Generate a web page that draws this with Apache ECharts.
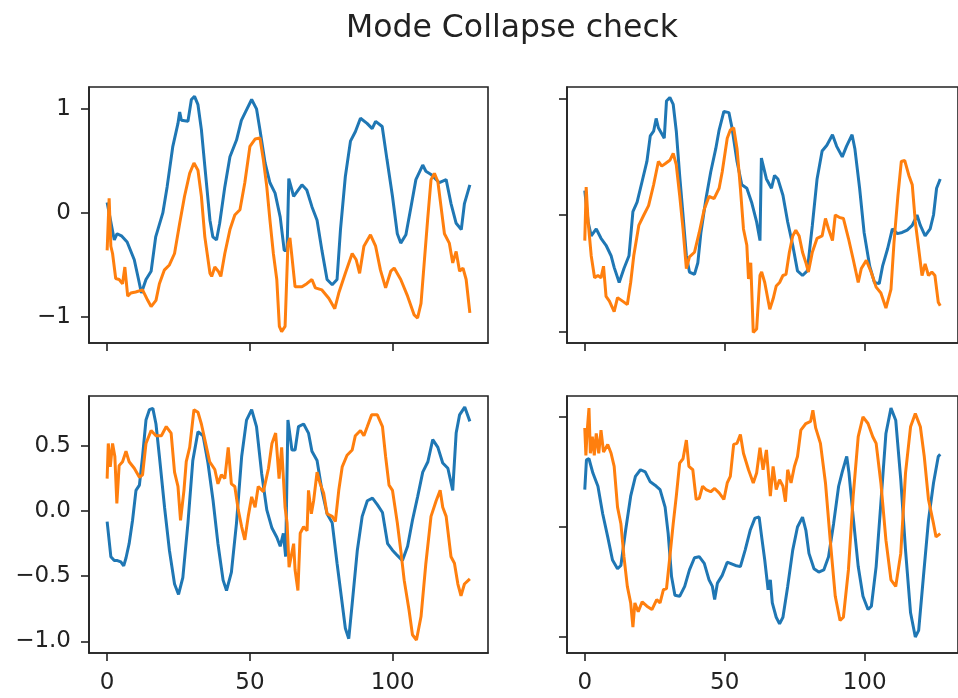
<!DOCTYPE html>
<html>
<head>
<meta charset="utf-8">
<script src="https://cdn.jsdelivr.net/npm/echarts@6/dist/echarts.min.js"></script>
<style>
html,body{margin:0;padding:0;background:#fff;}
#chart{width:958px;height:698px;}
</style>
</head>
<body>
<div id="chart"></div>
<script>
// ---------- data ----------
const titleText = 'Mode Collapse check';
const xTicks = [0, 50, 100];
const tlYTicks = [-1, 0, 1];
const trYTicks = [-1, 0, 1];
const blYTicks = [-1, -0.5, 0, 0.5];
const brYTicks = [-1, 0, 1];

// top-left panel
const tlBlueX = [0,2.5,3.5,5,7,9.5,11,12,13.6,15.4,17,19.5,21,23,24.8,25.4,26,28.3,29.5,30.6,31.8,33,34.2,36,37,38.3,39.4,41.2,43,45.3,47,48.8,50.6,52.3,53.5,55.3,57,58.8,60.6,62,63,63.6,65.3,68.2,69.9,71.7,73.5,75.2,77,78.8,80.5,81.7,83.4,85.2,86.9,88.7,91,92.8,94,96.3,98,99.9,101.6,102.8,104.6,106.4,108.1,110.5,111.6,113.4,116.3,118.7,120.4,122.2,124,125.1,127];
const tlBlueY = [0.1,-0.26,-0.2,-0.22,-0.28,-0.45,-0.64,-0.77,-0.64,-0.56,-0.23,0.0,0.25,0.64,0.86,0.97,0.89,0.88,1.09,1.12,1.04,0.8,0.45,-0.07,-0.23,-0.26,-0.1,0.25,0.54,0.7,0.89,0.99,1.09,1.0,0.8,0.48,0.29,0.19,-0.04,-0.36,-0.36,0.33,0.16,0.27,0.22,0.06,-0.07,-0.36,-0.64,-0.69,-0.64,-0.16,0.35,0.69,0.78,0.91,0.86,0.81,0.88,0.83,0.51,0.16,-0.2,-0.29,-0.21,0.06,0.32,0.46,0.4,0.37,0.29,0.32,0.09,-0.1,-0.16,0.09,0.27];
const tlOrangeX = [0,0.7,1.3,1.9,3,4.2,5.4,6.2,7.2,8.3,10,12.4,14.2,15.4,17.1,18.3,20,21.8,23.6,25.4,27.1,28.9,30.4,31.8,33,34.2,36,36.6,37.7,38.9,39.8,41.2,43,44.7,46.5,48.2,50,51.8,53.5,54.7,55.9,57,58.2,59.4,60.3,61.1,62.3,63.3,64,64.7,65.8,68.2,69.9,71.7,72.9,75.2,77.6,79.7,81.1,83.4,85.8,87.2,88.4,89.9,92.2,94,95.7,97.5,99.3,100.5,102.8,105.2,107.5,108.7,109.9,111.1,112.2,113.4,114.6,115.8,116.9,118.1,119.8,121,122.2,123.4,124.6,125.7,127];
const tlOrangeY = [-0.36,0.14,-0.32,-0.39,-0.63,-0.64,-0.68,-0.52,-0.8,-0.77,-0.76,-0.74,-0.84,-0.9,-0.84,-0.68,-0.55,-0.5,-0.39,-0.1,0.16,0.38,0.48,0.41,0.16,-0.23,-0.58,-0.61,-0.52,-0.56,-0.61,-0.39,-0.16,-0.02,0.03,0.29,0.64,0.71,0.72,0.51,0.25,-0.07,-0.39,-0.64,-1.09,-1.14,-1.09,-0.3,-0.24,-0.42,-0.71,-0.71,-0.68,-0.64,-0.72,-0.74,-0.82,-0.92,-0.77,-0.58,-0.39,-0.45,-0.58,-0.32,-0.21,-0.32,-0.55,-0.72,-0.56,-0.53,-0.64,-0.8,-0.98,-1.01,-0.87,-0.45,-0.07,0.32,0.38,0.3,0.06,-0.2,-0.29,-0.48,-0.37,-0.56,-0.53,-0.64,-0.96];

// top-right panel
const trBlueX = [0,1.2,2.3,4.1,5.8,7.6,9.4,10.5,12.3,14,15.8,17.2,18.7,20.5,22.2,23.4,24.6,25.5,26.3,28.4,29.2,30.4,31.6,32.7,33.9,35.1,36.3,37.4,39.2,40.4,41.5,43.3,45,46.8,48,49.7,51.5,52.6,54.4,56.1,57.9,59.6,61.4,62.6,63.1,64.9,66.7,67.8,69,70.8,72.5,74.3,76,77.8,79.5,81.3,83,84.8,86.5,88.5,90,92,93.5,95.5,96.5,98.2,99.8,101.8,103.5,105.2,106.4,108.2,109.9,111.7,113.4,115.2,117,118.7,119.9,121.6,123.4,124.6,125.7,127];
const trBlueY = [0.21,-0.06,-0.18,-0.12,-0.2,-0.26,-0.35,-0.45,-0.58,-0.46,-0.35,0.03,0.11,0.29,0.46,0.68,0.72,0.83,0.75,0.66,0.98,1.01,0.95,0.72,0.34,0.0,-0.35,-0.49,-0.51,-0.41,-0.15,0.14,0.37,0.57,0.73,0.89,0.88,0.75,0.46,0.26,0.23,0.11,-0.06,-0.22,0.49,0.31,0.23,0.34,0.31,0.17,-0.06,-0.26,-0.48,-0.52,-0.48,-0.09,0.31,0.55,0.6,0.69,0.59,0.5,0.59,0.69,0.57,0.23,-0.15,-0.44,-0.58,-0.59,-0.44,-0.29,-0.12,-0.16,-0.15,-0.13,-0.09,0.0,-0.09,-0.18,-0.12,0.0,0.23,0.31];
const trOrangeX = [0,0.5,1.2,2.3,3.5,4.7,5.8,6.7,7.6,8.8,10.5,11.7,13.5,15.2,16.4,17.5,19.3,21.1,22.8,24.6,26.3,27.5,28.7,30.4,31.6,32.7,33.9,35.1,36.3,37.4,39.2,40.9,42.7,44.4,46.2,48,49.1,50.9,52,53.2,54.4,55.6,56.7,57.9,58.5,59.3,60.2,61.4,62.6,63.2,64.3,66.1,67.3,68.4,69.6,70.8,71.9,73.1,74.3,75.4,76.6,77.8,79,79.9,81.3,83,84.8,86,87.1,88.5,89.5,90.9,92.4,94.2,95.9,97.7,98.8,100.6,102.3,104.1,105.8,107.6,109.4,110.5,111.9,113.1,114.3,115.8,117,118.1,119.3,120.5,121.6,122.8,124,125.1,126.3,127];
const trOrangeY = [-0.22,0.24,-0.06,-0.35,-0.54,-0.52,-0.54,-0.44,-0.7,-0.74,-0.83,-0.71,-0.74,-0.77,-0.58,-0.35,-0.09,0.0,0.08,0.26,0.46,0.42,0.44,0.47,0.53,0.43,0.17,-0.12,-0.46,-0.36,-0.32,-0.15,0.05,0.16,0.14,0.23,0.37,0.66,0.73,0.75,0.57,0.23,-0.12,-0.26,-0.55,-0.41,-1.01,-0.98,-0.52,-0.49,-0.58,-0.81,-0.72,-0.61,-0.58,-0.52,-0.51,-0.32,-0.18,-0.13,-0.18,-0.32,-0.41,-0.49,-0.32,-0.2,-0.18,-0.03,-0.12,-0.22,0.0,-0.02,-0.03,-0.2,-0.38,-0.58,-0.46,-0.39,-0.49,-0.62,-0.67,-0.8,-0.64,-0.23,0.17,0.46,0.47,0.34,0.26,-0.06,-0.29,-0.52,-0.42,-0.52,-0.49,-0.52,-0.75,-0.78];

// bottom-left panel
const blBlueX = [0,0.7,1.3,2.5,3.6,4.8,5.8,6.6,7.7,8.9,10.1,11.3,12.4,13.6,14.8,16,17.1,18.3,20.1,21.8,23.6,25,26.5,28.3,30,31.8,33.6,35.3,37.1,38.8,40.6,41.8,43.5,45.3,47.1,48.8,50.6,52.3,54.1,55.9,57.7,59.4,60.6,61.7,62.5,63.3,64.7,65.8,67,68.8,70.5,71.7,73.5,75.2,77,78.8,80.5,82.3,83.4,84.6,85.8,87.6,89.3,91.1,92.9,94.6,96.4,98.2,99.9,101.6,103.4,105.2,106.9,108.7,110.5,112.3,114,115.8,117.5,119.3,121,122.2,123.4,125.2,127];
const blBlueY = [-0.08,-0.09,-0.35,-0.38,-0.38,-0.39,-0.42,-0.36,-0.25,-0.07,0.16,0.2,0.42,0.7,0.78,0.79,0.67,0.42,0.03,-0.3,-0.56,-0.64,-0.51,-0.09,0.39,0.61,0.58,0.37,0.08,-0.25,-0.53,-0.61,-0.47,-0.09,0.42,0.7,0.78,0.65,0.29,0.01,-0.13,-0.2,-0.27,-0.17,-0.35,0.7,0.47,0.47,0.65,0.67,0.6,0.46,0.39,0.16,-0.02,-0.09,-0.4,-0.71,-0.9,-0.98,-0.71,-0.3,-0.04,0.08,0.1,0.05,-0.01,-0.25,-0.3,-0.34,-0.38,-0.27,-0.07,0.11,0.3,0.38,0.55,0.49,0.37,0.33,0.16,0.6,0.74,0.8,0.69];
const blOrangeX = [0,0.4,1.1,1.9,2.7,3.4,4.2,5.4,6.6,7.7,9.5,11.3,12.4,13.6,15.4,17.1,19,20.7,22.4,23.6,24.8,25.7,26.9,27.7,28.9,30.4,31.8,33,34.2,35.9,37.7,38.8,40,41.2,42.4,43.5,44.7,45.9,47.1,48.2,49.4,50.6,51.8,52.9,54.7,56.5,57.7,59,60.2,61.1,62.3,63,63.7,65.3,65.8,66.8,67.6,68.8,70,70.5,71.5,72.3,73.5,74.6,75.8,77,78.8,79.9,81.1,82.3,84,85.8,86.9,88.7,89.9,91.1,92.6,94.6,96.4,97.5,98.7,99.9,101.6,102.8,104,105.7,106.9,108.3,109.9,111.6,113.4,115.2,116.6,117.5,118.7,120.4,121.6,122.8,123.9,125.1,127];
const blOrangeY = [0.25,0.52,0.34,0.52,0.42,0.06,0.35,0.38,0.46,0.38,0.33,0.26,0.28,0.52,0.62,0.58,0.58,0.65,0.6,0.3,0.19,-0.07,0.16,0.38,0.49,0.78,0.76,0.67,0.55,0.38,0.32,0.21,0.28,0.25,0.49,0.21,0.19,0.01,-0.12,-0.22,-0.04,0.11,0.03,0.19,0.15,0.33,0.52,0.6,0.25,0.49,0.03,-0.09,-0.43,-0.25,-0.45,-0.61,-0.17,-0.12,-0.15,0.16,-0.02,0.08,0.3,0.21,0.14,-0.02,-0.04,-0.08,0.16,0.34,0.43,0.47,0.58,0.62,0.58,0.65,0.74,0.74,0.65,0.42,0.2,0.16,-0.09,-0.3,-0.53,-0.76,-0.95,-0.99,-0.81,-0.4,-0.04,0.08,0.16,0.03,-0.04,-0.35,-0.4,-0.56,-0.65,-0.56,-0.52];

// bottom-right panel
const brBlueX = [0,0.6,1.5,2.9,4.7,6.4,8.2,9.9,11.7,12.9,14.6,16.4,18.1,19.9,21.6,23.4,25.1,26.9,28.7,29.8,31,32.2,33.9,35.7,37.4,39.2,40.9,42.7,44.4,45.6,46.4,47.4,49.1,50.9,52,53.8,55.6,57.3,59.1,60.8,62.3,63.2,64.3,65.5,66.3,67,68.4,69.6,70.8,72.5,74.3,76,77.8,79,80.1,81.9,83.6,85.4,87.1,88.9,90.7,92,93,93.6,94.4,95.9,97.7,99.4,101.2,102.4,104.1,105.8,107.6,109.4,111.1,112.9,114.6,116.4,118.1,119.3,121,122.8,124.6,126.3,127];
const brBlueY = [0.34,0.61,0.62,0.49,0.37,0.12,-0.09,-0.3,-0.38,-0.35,-0.03,0.28,0.46,0.52,0.5,0.41,0.38,0.34,0.18,-0.06,-0.45,-0.62,-0.63,-0.54,-0.39,-0.28,-0.27,-0.33,-0.48,-0.54,-0.66,-0.51,-0.44,-0.32,-0.33,-0.35,-0.36,-0.21,-0.03,0.08,0.09,-0.09,-0.3,-0.57,-0.48,-0.69,-0.82,-0.88,-0.82,-0.54,-0.21,0.0,0.09,-0.03,-0.24,-0.38,-0.41,-0.39,-0.27,0.03,0.37,0.5,0.59,0.64,0.49,0.09,-0.36,-0.63,-0.75,-0.72,-0.36,0.22,0.85,1.08,0.97,0.43,-0.21,-0.78,-1.0,-0.94,-0.45,0.06,0.4,0.64,0.66];
const brOrangeX = [0,0.4,0.8,1.5,2,2.7,3.4,4.1,5,5.8,6.7,8.2,9.4,10.5,11.7,12.9,14,15.2,16.4,17.2,17.9,19.1,20.5,22.2,24,25.7,26.9,28.1,29.2,30.4,31.6,32.7,33.9,35.1,36.3,37.2,38.6,39.8,40.9,42.1,43.3,45,46.4,48,49.7,50.9,52,53.2,54.4,55.6,56.7,58.5,60.2,61.4,62.6,63.7,64.9,66.3,67.3,68.4,69.6,70.8,71.7,72.5,73.7,74.9,76,77.2,79,80.7,81.5,82.5,84.2,86,87.7,89.5,91.2,92.4,94.2,95.9,97.7,99.4,101.2,102.9,104.1,105.8,107.6,109.4,111.1,112.9,114.6,116.4,118.1,119.9,121.3,122.8,124.6,125.5,127];
const brOrangeY = [0.9,0.65,0.85,1.08,0.67,0.82,0.65,0.85,0.67,0.88,0.68,0.75,0.67,0.55,0.18,0.03,-0.27,-0.54,-0.69,-0.91,-0.69,-0.77,-0.68,-0.72,-0.75,-0.66,-0.69,-0.57,-0.56,-0.27,0.03,0.28,0.58,0.62,0.79,0.55,0.52,0.25,0.26,0.37,0.34,0.32,0.35,0.31,0.25,0.4,0.46,0.75,0.76,0.84,0.67,0.52,0.4,0.49,0.72,0.52,0.7,0.28,0.55,0.34,0.43,0.37,0.23,0.52,0.4,0.55,0.64,0.88,0.94,0.96,1.06,0.9,0.76,0.4,-0.12,-0.63,-0.85,-0.82,-0.39,0.28,0.82,1.0,0.94,0.82,0.76,0.4,-0.12,-0.48,-0.54,-0.24,0.49,0.91,1.03,0.91,0.64,0.25,0.03,-0.09,-0.06];

// ---------- chart ----------
const BLUE = '#1f77b4', ORANGE = '#ff7f0e', INK = '#222';
const FONT = 'DejaVu Sans';
const zip = (xs, ys) => xs.map((x, i) => [x, ys[i]]);
const minusFmt = (dec) => (v) => {
  const a = Math.abs(v);
  const s = dec ? a.toFixed(1) : String(a);
  return v < 0 ? '\u2212' + s : s;
};

const panels = [
  {grid:{left:89, top:87, width:399, height:256}, yMin:-1.25, yMax:1.21, yTicks:tlYTicks, yLabels:true, yDec:false, xLabels:false, blue:[tlBlueX,tlBlueY], orange:[tlOrangeX,tlOrangeY]},
  {grid:{left:567, top:87, width:398, height:256}, yMin:-1.1, yMax:1.1, yTicks:trYTicks, yLabels:false, yDec:false, xLabels:false, blue:[trBlueX,trBlueY], orange:[trOrangeX,trOrangeY]},
  {grid:{left:89, top:396, width:399, height:257}, yMin:-1.09, yMax:0.885, yTicks:blYTicks, yLabels:true, yDec:true, xLabels:true, blue:[blBlueX,blBlueY], orange:[blOrangeX,blOrangeY]},
  {grid:{left:567, top:396, width:398, height:257}, yMin:-1.145, yMax:1.19, yTicks:brYTicks, yLabels:false, yDec:false, xLabels:true, blue:[brBlueX,brBlueY], orange:[brOrangeX,brOrangeY]}
];

const grids = [], xAxes = [], yAxes = [], series = [];
panels.forEach((p, i) => {
  grids.push(Object.assign({show:true, borderColor:INK, borderWidth:1.6, backgroundColor:'#fff', containLabel:false}, p.grid));
  xAxes.push({
    type:'value', gridIndex:i, min:-6.35, max:133.35,
    splitLine:{show:false},
    axisLine:{show:true, onZero:false, lineStyle:{color:INK, width:1.6}},
    axisTick:{show:true, customValues:xTicks, length:8, lineStyle:{color:INK, width:1.6}},
    axisLabel:{show:p.xLabels, customValues:xTicks, margin:19, color:INK, fontFamily:FONT, fontSize:23}
  });
  yAxes.push({
    type:'value', gridIndex:i, min:p.yMin, max:p.yMax,
    splitLine:{show:false},
    axisLine:{show:true, onZero:false, lineStyle:{color:INK, width:1.6}},
    axisTick:{show:true, customValues:p.yTicks, length:8, lineStyle:{color:INK, width:1.6}},
    axisLabel:{show:p.yLabels, customValues:p.yTicks, margin:18, color:INK, fontFamily:FONT, fontSize:23, formatter:minusFmt(p.yDec)}
  });
  [[p.blue, BLUE], [p.orange, ORANGE]].forEach(([d, c]) => {
    series.push({
      type:'line', xAxisIndex:i, yAxisIndex:i, data:zip(d[0], d[1]),
      showSymbol:false, symbol:'none', clip:true,
      lineStyle:{color:c, width:3}, itemStyle:{color:c}
    });
  });
});

const chart = echarts.init(document.getElementById('chart'), null, {renderer:'canvas'});
chart.setOption({
  animation:false,
  backgroundColor:'#fff',
  graphic:[{type:'text', x:512, y:29, style:{text:titleText, fill:INK, font:'31.5px "DejaVu Sans"', align:'center', verticalAlign:'middle'}}],
  grid:grids, xAxis:xAxes, yAxis:yAxes, series:series
});
</script>
</body>
</html>
